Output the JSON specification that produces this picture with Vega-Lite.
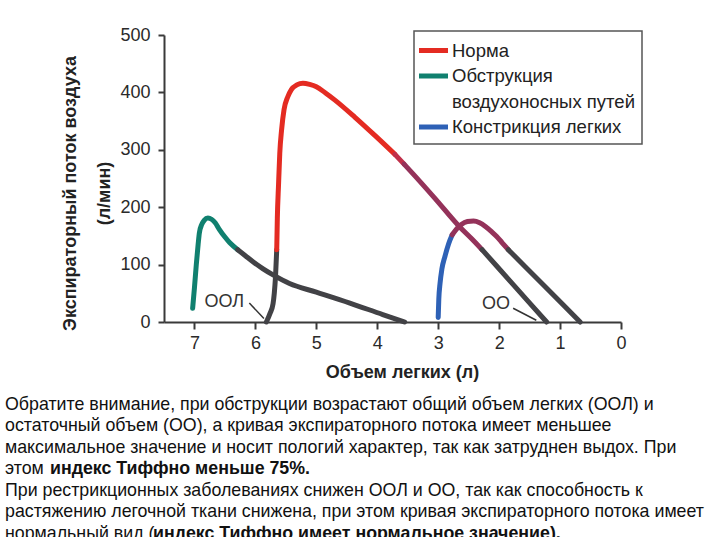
{
  "$schema": "https://vega.github.io/schema/vega-lite/v6.json",
  "background": "white",
  "padding": {"left": 5, "top": 26, "right": 5, "bottom": -8},
  "bounds": "flush",
  "spacing": 72,
  "config": {
    "view": {"stroke": null},
    "font": "Liberation Sans",
    "legend": {"strokeColor": "#555555", "strokeWidth": 1.5, "fillColor": "white"}
  },
  "datasets": {
    "curves": [
      {"s": "n0", "v": 5.82, "f": 0}, {"s": "n0", "v": 5.76, "f": 15}, {"s": "n0", "v": 5.71, "f": 32}, {"s": "n0", "v": 5.69, "f": 50}, {"s": "n0", "v": 5.67, "f": 79}, {"s": "n0", "v": 5.65, "f": 126},
      {"s": "Норма", "v": 5.65, "f": 126}, {"s": "Норма", "v": 5.64, "f": 181}, {"s": "Норма", "v": 5.62, "f": 240}, {"s": "Норма", "v": 5.6, "f": 294}, {"s": "Норма", "v": 5.57, "f": 335}, {"s": "Норма", "v": 5.53, "f": 370}, {"s": "Норма", "v": 5.47, "f": 392}, {"s": "Норма", "v": 5.41, "f": 405}, {"s": "Норма", "v": 5.32, "f": 413}, {"s": "Норма", "v": 5.22, "f": 416}, {"s": "Норма", "v": 5.11, "f": 414}, {"s": "Норма", "v": 5.0, "f": 410}, {"s": "Норма", "v": 4.85, "f": 399}, {"s": "Норма", "v": 4.7, "f": 387}, {"s": "Норма", "v": 4.37, "f": 357}, {"s": "Норма", "v": 4.04, "f": 325}, {"s": "Норма", "v": 3.71, "f": 292},
      {"s": "n1", "v": 3.71, "f": 292}, {"s": "n1", "v": 3.56, "f": 275},
      {"s": "n2", "v": 3.56, "f": 275}, {"s": "n2", "v": 3.42, "f": 259}, {"s": "n2", "v": 3.05, "f": 215}, {"s": "n2", "v": 2.65, "f": 166}, {"s": "n2", "v": 2.45, "f": 145}, {"s": "n2", "v": 2.28, "f": 126},
      {"s": "n3", "v": 2.28, "f": 126}, {"s": "n3", "v": 1.75, "f": 63}, {"s": "n3", "v": 1.22, "f": 0},
      {"s": "Обструкция", "v": 7.03, "f": 24}, {"s": "Обструкция", "v": 7.0, "f": 60}, {"s": "Обструкция", "v": 6.97, "f": 100}, {"s": "Обструкция", "v": 6.94, "f": 135}, {"s": "Обструкция", "v": 6.92, "f": 155}, {"s": "Обструкция", "v": 6.88, "f": 170}, {"s": "Обструкция", "v": 6.84, "f": 177}, {"s": "Обструкция", "v": 6.78, "f": 181}, {"s": "Обструкция", "v": 6.72, "f": 179}, {"s": "Обструкция", "v": 6.66, "f": 173}, {"s": "Обструкция", "v": 6.59, "f": 161}, {"s": "Обструкция", "v": 6.5, "f": 148}, {"s": "Обструкция", "v": 6.42, "f": 138}, {"s": "Обструкция", "v": 6.29, "f": 126},
      {"s": "o1", "v": 6.29, "f": 126}, {"s": "o1", "v": 6.16, "f": 115}, {"s": "o1", "v": 6.04, "f": 105}, {"s": "o1", "v": 5.88, "f": 93}, {"s": "o1", "v": 5.71, "f": 82}, {"s": "o1", "v": 5.44, "f": 67}, {"s": "o1", "v": 5.0, "f": 52}, {"s": "o1", "v": 4.45, "f": 33}, {"s": "o1", "v": 3.91, "f": 13}, {"s": "o1", "v": 3.55, "f": 0},
      {"s": "Констрикция легких", "v": 3.0, "f": 8}, {"s": "Констрикция легких", "v": 2.99, "f": 40}, {"s": "Констрикция легких", "v": 2.97, "f": 67}, {"s": "Констрикция легких", "v": 2.94, "f": 92}, {"s": "Констрикция легких", "v": 2.89, "f": 114}, {"s": "Констрикция легких", "v": 2.83, "f": 136}, {"s": "Констрикция легких", "v": 2.77, "f": 152},
      {"s": "c1", "v": 2.77, "f": 152}, {"s": "c1", "v": 2.7, "f": 162}, {"s": "c1", "v": 2.62, "f": 170}, {"s": "c1", "v": 2.52, "f": 175}, {"s": "c1", "v": 2.42, "f": 176}, {"s": "c1", "v": 2.32, "f": 173}, {"s": "c1", "v": 2.22, "f": 166}, {"s": "c1", "v": 2.12, "f": 157}, {"s": "c1", "v": 2.04, "f": 149}, {"s": "c1", "v": 1.95, "f": 138}, {"s": "c1", "v": 1.85, "f": 126},
      {"s": "c2", "v": 1.85, "f": 126}, {"s": "c2", "v": 1.26, "f": 63}, {"s": "c2", "v": 0.67, "f": 0}
    ],
    "labels": [
      {"t": "ООЛ", "v": 6.51, "f": 34, "v2": 6.1, "f2": 33, "v3": 5.86, "f3": 6},
      {"t": "ОО", "v": 2.05, "f": 31, "v2": 1.77, "f2": 24, "v3": 1.39, "f3": 3}
    ],
    "caption": [
      {"line": 1, "w": "n", "t": "Обратите внимание, при обструкции возрастают общий объем легких (ООЛ) и"},
      {"line": 2, "w": "n", "t": "остаточный объем (ОО), а кривая экспираторного потока имеет меньшее"},
      {"line": 3, "w": "n", "t": "максимальное значение и носит пологий характер, так как затруднен выдох. При"},
      {"line": 4, "w": "n", "t": "этом"},
      {"line": 4, "w": "b1", "t": "индекс Тиффно меньше 75%."},
      {"line": 5, "w": "n", "t": "При рестрикционных заболеваниях снижен ООЛ и ОО, так как способность к"},
      {"line": 6, "w": "n", "t": "растяжению легочной ткани снижена, при этом кривая экспираторного потока имеет"},
      {"line": 7, "w": "n", "t": "нормальный вид ("},
      {"line": 7, "w": "b2", "t": "индекс Тиффно имеет нормальное значение)."}
    ]
  },
  "vconcat": [
    {
      "width": 457,
      "height": 287,
      "layer": [
        {
          "data": {"name": "curves"},
          "mark": {"type": "line", "strokeWidth": 5, "interpolate": "monotone", "strokeCap": "round", "strokeJoin": "round"},
          "encoding": {
            "x": {
              "field": "v", "type": "quantitative",
              "scale": {"domain": [0, 7.5], "reverse": true, "nice": false, "zero": false},
              "axis": {
                "values": [0, 1, 2, 3, 4, 5, 6, 7], "format": "d", "grid": false,
                "title": "Объем легких (л)", "titleFontSize": 18, "titleFontWeight": "bold", "titleColor": "#222", "titlePadding": 11, "titleX": 238,
                "labelFontSize": 18, "labelColor": "#2a2a2a", "labelPadding": 5, "labelFlush": false,
                "tickSize": 7, "tickWidth": 2, "tickColor": "#3a3a3a", "domainColor": "#3a3a3a", "domainWidth": 2
              }
            },
            "y": {
              "field": "f", "type": "quantitative",
              "scale": {"domain": [0, 500], "nice": false},
              "axis": {
                "values": [0, 100, 200, 300, 400, 500], "grid": false,
                "title": ["Экспираторный поток воздуха", "(л/мин)"], "titleFontSize": 18, "titleFontWeight": "bold", "titleColor": "#222", "titleLineHeight": 34, "titlePadding": 6, "titleY": 158,
                "labelFontSize": 18, "labelColor": "#2a2a2a", "labelPadding": 8,
                "tickSize": 6, "tickWidth": 2, "tickColor": "#3a3a3a", "domainColor": "#3a3a3a", "domainWidth": 2
              }
            },
            "color": {
              "field": "s", "type": "nominal",
              "scale": {
                "domain": ["Норма", "Обструкция", "воздухоносных путей", "Констрикция легких", "n0", "n1", "n2", "n3", "o1", "c1", "c2"],
                "range": ["#e42b22", "#10806f", "#ffffff", "#2e61b6", "#424246", "#c0304a", "#94325a", "#424246", "#424246", "#94325a", "#424246"]
              },
              "legend": {
                "values": ["Норма", "Обструкция", "воздухоносных путей", "Констрикция легких"],
                "title": null, "orient": "none", "legendX": 250, "legendY": -4,
                "symbolType": "M-1.45,0H1.45", "symbolSize": 400, "symbolStrokeWidth": 5,
                "labelFontSize": 18.5, "labelColor": "#222", "labelOffset": 6, "labelLimit": 300,
                "strokeColor": "#555555", "fillColor": "white", "padding": 7, "rowPadding": 2.5
              }
            }
          }
        },
        {
          "data": {"name": "labels"},
          "mark": {"type": "rule", "strokeWidth": 1.5, "color": "#333"},
          "encoding": {
            "x": {"field": "v2", "type": "quantitative"},
            "x2": {"field": "v3"},
            "y": {"field": "f2", "type": "quantitative"},
            "y2": {"field": "f3"}
          }
        },
        {
          "data": {"name": "labels"},
          "mark": {"type": "text", "fontSize": 18, "color": "#333"},
          "encoding": {
            "x": {"field": "v", "type": "quantitative"},
            "y": {"field": "f", "type": "quantitative"},
            "text": {"field": "t"}
          }
        }
      ]
    },
    {
      "width": 300,
      "height": 150.5,
      "data": {"name": "caption"},
      "encoding": {
        "y": {"field": "line", "type": "ordinal", "axis": null, "scale": {"domain": [1, 2, 3, 4, 5, 6, 7]}},
        "text": {"field": "t"}
      },
      "layer": [
        {"transform": [{"filter": "datum.w == 'n'"}], "mark": {"type": "text", "align": "left", "x": -159, "fontSize": 17.8, "color": "#111"}},
        {"transform": [{"filter": "datum.w == 'b1'"}], "mark": {"type": "text", "align": "left", "x": -159, "dx": 45, "fontSize": 17.8, "fontWeight": "bold", "color": "#111"}},
        {"transform": [{"filter": "datum.w == 'b2'"}], "mark": {"type": "text", "align": "left", "x": -159, "dx": 148, "fontSize": 17.8, "fontWeight": "bold", "color": "#111"}}
      ]
    }
  ]
}
